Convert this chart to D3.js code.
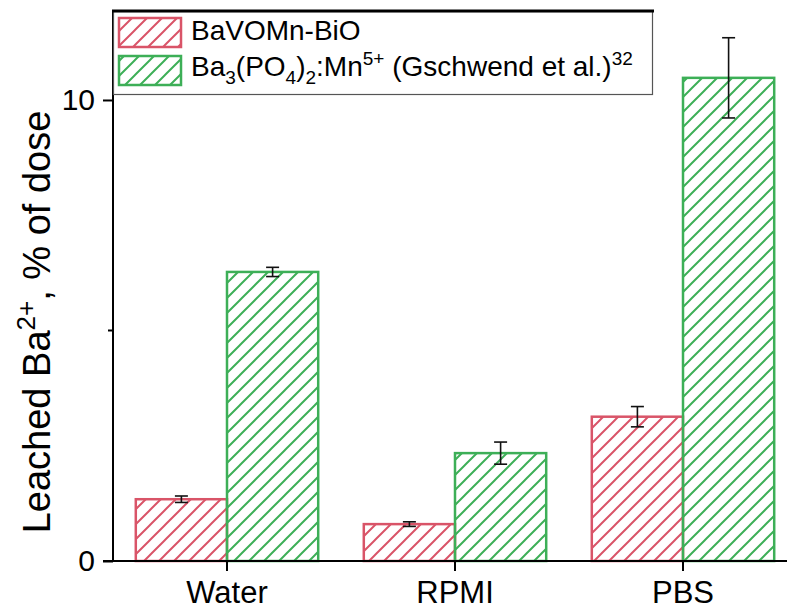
<!DOCTYPE html>
<html>
<head>
<meta charset="utf-8">
<script src="https://cdnjs.cloudflare.com/ajax/libs/d3/7.8.5/d3.min.js"></script>
<style>
  body { margin:0; background:#fff; }
  svg { display:block; font-family: "Liberation Sans", Arial, sans-serif; }
</style>
</head>
<body>
<script>
// data
var categories = ["Water", "RPMI", "PBS"];
var seriesNames = ["BaVOMn-BiO", "Ba3(PO4)2:Mn5+"];
var bavomnValues = [1.34, 0.80, 3.13];
var bavomnErrors = [0.07, 0.05, 0.22];
var gschwendValues = [6.27, 2.34, 10.48];
var gschwendErrors = [0.10, 0.24, 0.87];
var yTicks = [0, 10];
var yMinorTicks = [5];

var w = 787, h = 611;
var colors = ["#d95468", "#3daf57"];

var svg = d3.select("body").append("svg")
    .attr("width", w)
    .attr("height", h);

// hatch patterns, "/" lines every 15px
var defs = svg.append("defs");
colors.forEach(function(c, i) {
  var p = defs.append("pattern")
      .attr("id", "hatch" + i)
      .attr("patternUnits", "userSpaceOnUse")
      .attr("width", 15)
      .attr("height", 15);
  p.append("path")
      .attr("d", "M-1,16L16,-1M-4,4L4,-4M11,19L19,11")
      .attr("stroke", c)
      .attr("stroke-width", 2)
      .attr("fill", "none");
});

var x0 = d3.scaleBand()
    .domain(categories)
    .range([113, 797])
    .paddingInner(0.2)
    .paddingOuter(0.1);
var x1 = d3.scaleBand()
    .domain(seriesNames)
    .range([0, x0.bandwidth()]);
var y = d3.scaleLinear()
    .domain([0, 11.93])
    .range([561, 11]);

var rows = [];
categories.forEach(function(c, i) {
  rows.push({cat: c, s: 0, v: bavomnValues[i], e: bavomnErrors[i]});
  rows.push({cat: c, s: 1, v: gschwendValues[i], e: gschwendErrors[i]});
});

svg.selectAll("rect.bar")
    .data(rows)
    .enter()
    .append("rect")
    .attr("class", "bar")
    .attr("x", function(d) { return x0(d.cat) + x1(seriesNames[d.s]); })
    .attr("y", function(d) { return y(d.v); })
    .attr("width", x1.bandwidth())
    .attr("height", function(d) { return y(0) - y(d.v); })
    .attr("fill", function(d) { return "url(#hatch" + d.s + ")"; })
    .attr("stroke", function(d) { return colors[d.s]; })
    .attr("stroke-width", 2.5);

// error bars
var eb = svg.selectAll("g.err")
    .data(rows)
    .enter()
    .append("g")
    .attr("class", "err")
    .attr("transform", function(d) {
      return "translate(" + (x0(d.cat) + x1(seriesNames[d.s]) + x1.bandwidth() / 2) + ",0)";
    })
    .attr("stroke", "#111")
    .attr("stroke-width", 1.6);
eb.append("line")
    .attr("y1", function(d) { return y(d.v - d.e); })
    .attr("y2", function(d) { return y(d.v + d.e); });
eb.append("line")
    .attr("x1", -6.5).attr("x2", 6.5)
    .attr("y1", function(d) { return y(d.v + d.e); })
    .attr("y2", function(d) { return y(d.v + d.e); });
eb.append("line")
    .attr("x1", -6.5).attr("x2", 6.5)
    .attr("y1", function(d) { return y(d.v - d.e); })
    .attr("y2", function(d) { return y(d.v - d.e); });

// axes
var yAxis = d3.axisLeft(y).tickValues(yTicks).tickSize(10).tickPadding(8).tickFormat(d3.format("d"));
var gy = svg.append("g").attr("transform", "translate(113,0)").call(yAxis);
gy.selectAll(".minor").data(yMinorTicks).enter()
  .append("line").attr("class", "minor").attr("x1", 0).attr("x2", -5)
  .attr("y1", function(d) { return y(d); }).attr("y2", function(d) { return y(d); })
  .attr("stroke", "#000").attr("stroke-width", 2);
gy.select(".domain").attr("stroke-width", 2).attr("d", "M0," + y(0) + "V" + y.range()[1]);
gy.selectAll(".tick line").attr("stroke-width", 2);
gy.selectAll(".tick text").attr("font-size", 30).attr("fill", "#000").attr("font-family", "Liberation Sans, Arial, sans-serif");

var xAxis = d3.axisBottom(x0).tickSize(10).tickPadding(10);
var gx = svg.append("g").attr("transform", "translate(0,561)").call(xAxis);
gx.select(".domain").attr("stroke-width", 2).attr("d", "M103,0H797");
gx.selectAll(".tick line").attr("stroke-width", 2);
gx.selectAll(".tick text").attr("font-size", 31).attr("fill", "#000").attr("font-family", "Liberation Sans, Arial, sans-serif");

// y label
var yl = svg.append("text")
    .attr("transform", "translate(50,322) rotate(-90)")
    .attr("text-anchor", "middle")
    .attr("font-size", 38)
    .attr("fill", "#000");
yl.append("tspan").text("Leached Ba");
yl.append("tspan").attr("font-size", 26).attr("dy", -15).text("2+");
yl.append("tspan").attr("dy", 15).text(", % of dose");

// legend
var lg = svg.append("g");
lg.append("rect")
    .attr("x", 113.5).attr("y", 11.5)
    .attr("width", 539).attr("height", 83)
    .attr("fill", "#fff")
    .attr("stroke", "#555")
    .attr("stroke-width", 1.2);
lg.append("line")
    .attr("x1", 112).attr("x2", 654)
    .attr("y1", 11).attr("y2", 11)
    .attr("stroke", "#000").attr("stroke-width", 3);
[0, 1].forEach(function(i) {
  lg.append("rect")
      .attr("x", 119).attr("y", 18 + i * 38)
      .attr("width", 62).attr("height", 29)
      .attr("fill", "url(#hatch" + i + ")")
      .attr("stroke", colors[i])
      .attr("stroke-width", 2.5);
});
lg.append("text").attr("x", 191).attr("y", 40).attr("font-size", 28).attr("fill", "#000").text("BaVOMn-BiO");
var t2 = lg.append("text").attr("x", 191).attr("y", 76).attr("font-size", 28).attr("fill", "#000");
t2.append("tspan").text("Ba");
t2.append("tspan").attr("font-size", 19).attr("dy", 8).text("3");
t2.append("tspan").attr("dy", -8).text("(PO");
t2.append("tspan").attr("font-size", 19).attr("dy", 8).text("4");
t2.append("tspan").attr("dy", -8).text(")");
t2.append("tspan").attr("font-size", 19).attr("dy", 8).text("2");
t2.append("tspan").attr("dy", -8).text(":Mn");
t2.append("tspan").attr("font-size", 19).attr("dy", -11).text("5+");
t2.append("tspan").attr("dy", 11).text(" (Gschwend et al.)");
t2.append("tspan").attr("font-size", 19).attr("dy", -11).text("32");
</script>
</body>
</html>
